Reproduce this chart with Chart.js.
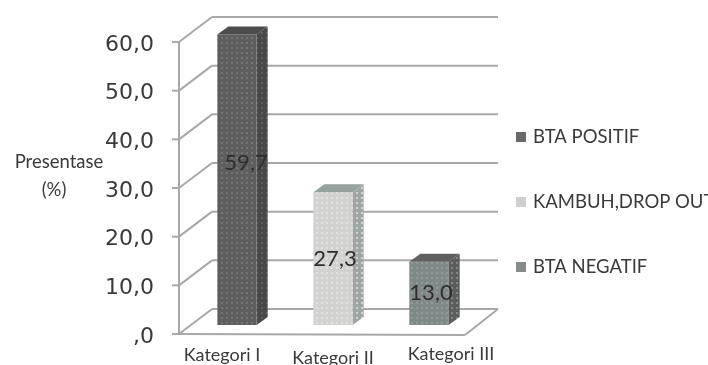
<!DOCTYPE html>
<html>
<head>
<meta charset="utf-8">
<script src="https://cdn.jsdelivr.net/npm/chart.js@4"></script>
<style>
html, body { margin: 0; padding: 0; background: #fff; }
#wrap { width: 708px; height: 365px; overflow: hidden; }
</style>
</head>
<body>
<div id="wrap"><canvas id="tbChart" width="708" height="365"></canvas></div>
<script>
const categories = ['Kategori I', 'Kategori II', 'Kategori III'];
const values = [59.7, 27.3, 13.0];
const legendNames = ['BTA POSITIF', 'KAMBUH,DROP OUT', 'BTA NEGATIF'];
const yTicks = [0, 10, 20, 30, 40, 50, 60];

// front, side, top colour of each bar
const frontColors = ['#5e5e5e', '#d2d2d0', '#7f8a88'];
const sideColors = ['#484848', '#a0a6a4', '#5c5c5c'];
const topColors = ['#4c4c4c', '#95a29e', '#606060'];
const dotColors = ['#757575', '#e2e2e0', '#939b99'];
const legendColors = ['#6a6a6a', '#cfcfcf', '#858c8a'];

// bars stand this far in from the front of the floor
const barShift = { x: 10, y: -9 };
const barDepth = { x: 11, y: -8 };
const wallDepth = { x: 33, y: -25 };
const wallRight = 498;

const labelFont = '"Lato", sans-serif';
const lineColor = '#a8a8a8';

function dotted(base, dot) {
    const c = document.createElement('canvas');
    c.width = 5;
    c.height = 5;
    const g = c.getContext('2d');
    g.fillStyle = base;
    g.fillRect(0, 0, 5, 5);
    g.fillStyle = dot;
    g.fillRect(1, 1, 2, 2);
    return g.createPattern(c, 'repeat');
}

function line(ctx, x1, y1, x2, y2) {
    ctx.beginPath();
    ctx.moveTo(x1, y1);
    ctx.lineTo(x2, y2);
    ctx.stroke();
}

function face(ctx, pts, fill) {
    ctx.beginPath();
    pts.forEach((p, i) => i ? ctx.lineTo(p[0], p[1]) : ctx.moveTo(p[0], p[1]));
    ctx.closePath();
    ctx.fillStyle = fill;
    ctx.fill();
}

// back wall, floor and y axis go in under the bars
const wallPlugin = {
    id: 'wall',
    beforeDatasetsDraw(chart) {
        const { ctx, chartArea, scales } = chart;
        const left = chartArea.left;
        ctx.save();
        ctx.strokeStyle = lineColor;
        ctx.lineWidth = 2;
        yTicks.forEach(t => {
            const y = scales.y.getPixelForValue(t);
            line(ctx, left - 7, y, left, y);
            line(ctx, left, y, left + wallDepth.x, y + wallDepth.y);
            line(ctx, left + wallDepth.x, y + wallDepth.y, wallRight, y + wallDepth.y);
        });
        const y0 = scales.y.getPixelForValue(0);
        line(ctx, left, y0, chartArea.right - 2, y0 + 1);
        line(ctx, chartArea.right - 2, y0 + 1, wallRight, y0 + wallDepth.y);
        line(ctx, left, scales.y.getPixelForValue(60), left, y0);
        ctx.restore();

        ctx.save();
        ctx.translate(barShift.x, barShift.y);
    },
    afterDatasetsDraw(chart) {
        const { ctx } = chart;
        const bars = chart.getDatasetMeta(0).data;
        bars.forEach((bar, i) => {
            const l = bar.x - bar.width / 2;
            const r = bar.x + bar.width / 2;
            const dx = barDepth.x;
            const dy = barDepth.y;
            face(ctx, [[r, bar.y], [r + dx, bar.y + dy], [r + dx, bar.base + dy], [r, bar.base]],
                dotted(sideColors[i], frontColors[i]));
            face(ctx, [[l, bar.y], [l + dx, bar.y + dy], [r + dx, bar.y + dy], [r, bar.y]], topColors[i]);
        });
        ctx.restore();

        // value labels sit on the bar fronts
        const nudgeX = [9, 2, 2];
        const nudgeY = [-17, 0, 0];
        ctx.save();
        ctx.font = '22px ' + labelFont;
        ctx.fillStyle = '#2e2e2e';
        ctx.textAlign = 'center';
        ctx.textBaseline = 'middle';
        bars.forEach((bar, i) => {
            const text = values[i].toFixed(1).replace('.', ',');
            ctx.fillText(text, bar.x + barShift.x + nudgeX[i], (bar.y + bar.base) / 2 + barShift.y + nudgeY[i]);
        });
        ctx.restore();
    },
    afterDraw(chart) {
        const { ctx, scales } = chart;
        ctx.save();
        ctx.textBaseline = 'middle';
        ctx.fillStyle = '#3a3a3a';

        // y axis caption
        ctx.font = '18.5px ' + labelFont;
        ctx.textAlign = 'center';
        ctx.fillText('Presentase', 59, 162);
        ctx.fillText('(%)', 54, 190);

        // category names
        const shiftX = [-15, 0, 22];
        const shiftY = [355, 358, 354];
        ctx.font = '18px ' + labelFont;
        categories.forEach((name, i) => {
            ctx.fillText(name, scales.x.getPixelForValue(i) + barShift.x + shiftX[i], shiftY[i]);
        });

        // legend
        const legendY = [137, 202, 267];
        ctx.textAlign = 'left';
        ctx.font = '18.5px ' + labelFont;
        legendNames.forEach((name, i) => {
            ctx.fillStyle = legendColors[i];
            ctx.fillRect(516, legendY[i] - 5, 10, 10);
            ctx.fillStyle = '#3a3a3a';
            ctx.fillText(name, 533, legendY[i]);
        });
        ctx.restore();
    }
};

new Chart(document.getElementById('tbChart').getContext('2d'), {
    type: 'bar',
    data: {
        labels: categories,
        datasets: [{
            data: values,
            backgroundColor: frontColors.map((c, i) => dotted(c, dotColors[i])),
            categoryPercentage: 1,
            barPercentage: 0.41
        }]
    },
    options: {
        responsive: false,
        animation: false,
        layout: {
            padding: { top: 42, right: 241, bottom: 23, left: 0 }
        },
        plugins: {
            legend: { display: false },
            tooltip: { enabled: false }
        },
        scales: {
            x: {
                grid: { display: false },
                border: { display: false },
                ticks: { display: false }
            },
            y: {
                min: 0,
                max: 60,
                afterFit(axis) { axis.width = 179; },
                afterBuildTicks(axis) { axis.ticks = yTicks.map(v => ({ value: v })); },
                grid: { display: false },
                border: { display: false },
                ticks: {
                    color: '#3a3a3a',
                    padding: 17,
                    labelOffset: 3,
                    font: { family: 'DejaVu Sans', size: 22 },
                    callback: v => v === 0 ? ',0' : v.toFixed(1).replace('.', ',')
                }
            }
        }
    },
    plugins: [wallPlugin]
});
</script>
</body>
</html>
